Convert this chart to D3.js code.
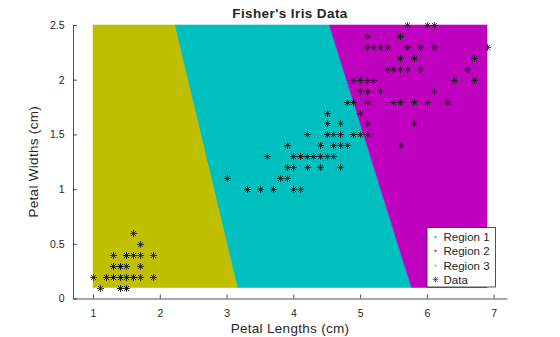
<!DOCTYPE html>
<html>
<head>
<meta charset="utf-8">
<script src="https://cdn.jsdelivr.net/npm/d3@7"></script>
<style>
  html, body { margin: 0; padding: 0; background: #fff; }
  svg { display: block; font-family: "Liberation Sans", Arial, sans-serif; }
</style>
</head>
<body>
<svg id="chart" width="560" height="337"></svg>
<script>
// Fisher's iris: petal length and petal width (cm), 150 samples
const petalLength = [
  1.4,1.4,1.3,1.5,1.4,1.7,1.4,1.5,1.4,1.5,1.5,1.6,1.4,1.1,1.2,1.5,1.3,1.4,1.7,1.5,
  1.7,1.5,1.0,1.7,1.9,1.6,1.6,1.5,1.4,1.6,1.6,1.5,1.5,1.4,1.5,1.2,1.3,1.4,1.3,1.5,
  1.3,1.3,1.3,1.6,1.9,1.4,1.6,1.4,1.5,1.4,
  4.7,4.5,4.9,4.0,4.6,4.5,4.7,3.3,4.6,3.9,3.5,4.2,4.0,4.7,3.6,4.4,4.5,4.1,4.5,3.9,
  4.8,4.0,4.9,4.7,4.3,4.4,4.8,5.0,4.5,3.5,3.8,3.7,3.9,5.1,4.5,4.5,4.7,4.4,4.1,4.0,
  4.4,4.6,4.0,3.3,4.2,4.2,4.2,4.3,3.0,4.1,
  6.0,5.1,5.9,5.6,5.8,6.6,4.5,6.3,5.8,6.1,5.1,5.3,5.5,5.0,5.1,5.3,5.5,6.7,6.9,5.0,
  5.7,4.9,6.7,4.9,5.7,6.0,4.8,4.9,5.6,5.8,6.1,6.4,5.6,5.1,5.6,6.1,5.6,5.5,4.8,5.4,
  5.6,5.1,5.1,5.9,5.7,5.2,5.0,5.2,5.4,5.1
];
const petalWidth = [
  0.2,0.2,0.2,0.2,0.2,0.4,0.3,0.2,0.2,0.1,0.2,0.2,0.1,0.1,0.2,0.4,0.4,0.3,0.3,0.3,
  0.2,0.4,0.2,0.5,0.2,0.2,0.4,0.2,0.2,0.2,0.2,0.4,0.1,0.2,0.2,0.2,0.2,0.1,0.2,0.2,
  0.3,0.3,0.2,0.6,0.4,0.3,0.2,0.2,0.2,0.2,
  1.4,1.5,1.5,1.3,1.5,1.3,1.6,1.0,1.3,1.4,1.0,1.5,1.0,1.4,1.3,1.4,1.5,1.0,1.5,1.1,
  1.8,1.3,1.5,1.2,1.3,1.4,1.4,1.7,1.5,1.0,1.1,1.0,1.2,1.6,1.5,1.6,1.5,1.3,1.3,1.3,
  1.2,1.4,1.2,1.0,1.3,1.2,1.3,1.3,1.1,1.3,
  2.5,1.9,2.1,1.8,2.2,2.1,1.7,1.8,1.8,2.5,2.0,1.9,2.1,2.0,2.4,2.3,1.8,2.2,2.3,1.5,
  2.3,2.0,2.0,1.8,2.1,1.8,1.8,1.8,2.1,1.6,1.9,2.0,2.2,1.5,1.4,2.3,2.4,1.8,1.8,2.1,
  2.4,2.3,1.9,2.3,2.5,2.3,1.9,2.0,2.3,1.8
];

// Classification grid extent and the two linear decision boundaries
const gridLength = [1.0, 6.9];
const gridWidth = [0.1, 2.5];
// boundary between Region 3 and Region 1: [length at top, length at bottom]
const boundary31 = [2.22, 3.16];
// boundary between Region 1 and Region 2
const boundary12 = [4.54, 5.77];

const regionNames = ["Region 1", "Region 2", "Region 3"];
const regionColors = ["#00bfbf", "#bf00bf", "#bfbf00"];

const xTicks = [1, 2, 3, 4, 5, 6, 7];
const yTicks = [0, 0.5, 1, 1.5, 2, 2.5];

const svg = d3.select("#chart");
const plotLeft = 73, plotRight = 507, plotTop = 25, plotBottom = 298.5;

const x = d3.scaleLinear().domain([0.7, 7.2]).range([plotLeft, plotRight]);
const y = d3.scaleLinear().domain([0, 2.5]).range([plotBottom, plotTop]);

// region polygons in data coordinates
const [x0, x1] = gridLength, [y0, y1] = gridWidth;
const regions = [
  { name: regionNames[0], color: regionColors[0],
    pts: [[boundary31[0], y1], [boundary12[0], y1], [boundary12[1], y0], [boundary31[1], y0]] },
  { name: regionNames[1], color: regionColors[1],
    pts: [[boundary12[0], y1], [x1, y1], [x1, y0], [boundary12[1], y0]] },
  { name: regionNames[2], color: regionColors[2],
    pts: [[x0, y1], [boundary31[0], y1], [boundary31[1], y0], [x0, y0]] }
];
const line = d3.line().x(d => x(d[0])).y(d => y(d[1]));
svg.append("g").selectAll("path").data(regions).join("path")
  .attr("d", d => line(d.pts) + "Z")
  .attr("fill", d => d.color)
  .attr("stroke", d => d.color)
  .attr("stroke-width", 0.6);

// asterisk marker
function star(r) {
  const d = r * 0.72;
  return `M0,${-r}V${r}M${-r},0H${r}M${-d},${-d}L${d},${d}M${-d},${d}L${d},${-d}`;
}
const pts = petalLength.map((v, i) => [v, petalWidth[i]]);
svg.append("g").selectAll("path").data(pts).join("path")
  .attr("transform", d => `translate(${Math.round(x(d[0])) + 0.5},${Math.round(y(d[1])) + 0.5})`)
  .attr("d", star(3.3))
  .attr("stroke", "#1a1a1a")
  .attr("stroke-width", 0.8)
  .attr("shape-rendering", "crispEdges")
  .attr("fill", "none");

// axes (ticks point inward)
const xAxis = svg.append("g").attr("transform", `translate(0,${plotBottom})`)
  .call(d3.axisBottom(x).tickValues(xTicks).tickSizeInner(-4).tickSizeOuter(0).tickPadding(11).tickFormat(d3.format("~g")));
const yAxis = svg.append("g").attr("transform", `translate(${plotLeft},0)`)
  .call(d3.axisLeft(y).tickValues(yTicks).tickSizeInner(-4).tickSizeOuter(0).tickPadding(8.5).tickFormat(d3.format("~g")));
[xAxis, yAxis].forEach(a => {
  a.select(".domain").attr("stroke", "#262626").attr("stroke-width", 0.8);
  a.selectAll(".tick line").attr("stroke", "#262626").attr("stroke-width", 0.8);
  a.selectAll("text").attr("fill", "#262626").attr("font-size", 10.5).attr("font-family", "Liberation Sans, Arial, sans-serif");
});

// title and labels
svg.append("text").attr("x", (plotLeft + plotRight) / 2).attr("y", 18.3)
  .attr("text-anchor", "middle").attr("font-weight", "bold").attr("font-size", 13.5)
  .attr("letter-spacing", 0.4).attr("fill", "#262626").text("Fisher's Iris Data");
svg.append("text").attr("x", (plotLeft + plotRight) / 2).attr("y", 333.3)
  .attr("text-anchor", "middle").attr("font-size", 13.5).attr("letter-spacing", 0.3)
  .attr("fill", "#262626").text("Petal Lengths (cm)");
svg.append("text").attr("transform", `translate(37.5,${(plotTop + plotBottom) / 2}) rotate(-90)`)
  .attr("text-anchor", "middle").attr("font-size", 13.5).attr("letter-spacing", 0.3)
  .attr("fill", "#262626").text("Petal Widths (cm)");

// legend
const lg = svg.append("g").attr("transform", "translate(427,227.5)");
lg.append("rect").attr("width", 68.5).attr("height", 59.5)
  .attr("fill", "#fff").attr("stroke", "#262626").attr("stroke-width", 0.8);
const rowY = [9.7, 23.3, 38, 52];
regions.forEach((r, i) => {
  lg.append("circle").attr("cx", 8.5).attr("cy", rowY[i]).attr("r", 1.1).attr("fill", r.color);
  lg.append("text").attr("x", 16.5).attr("y", rowY[i] + 4).attr("font-size", 11.5)
    .attr("fill", "#262626").text(r.name);
});
lg.append("path").attr("transform", `translate(8.5,${rowY[3]})`).attr("d", star(3))
  .attr("stroke", "#262626").attr("stroke-width", 0.6).attr("fill", "none");
lg.append("text").attr("x", 16.5).attr("y", rowY[3] + 4).attr("font-size", 11.5)
  .attr("fill", "#262626").text("Data");
</script>
</body>
</html>
